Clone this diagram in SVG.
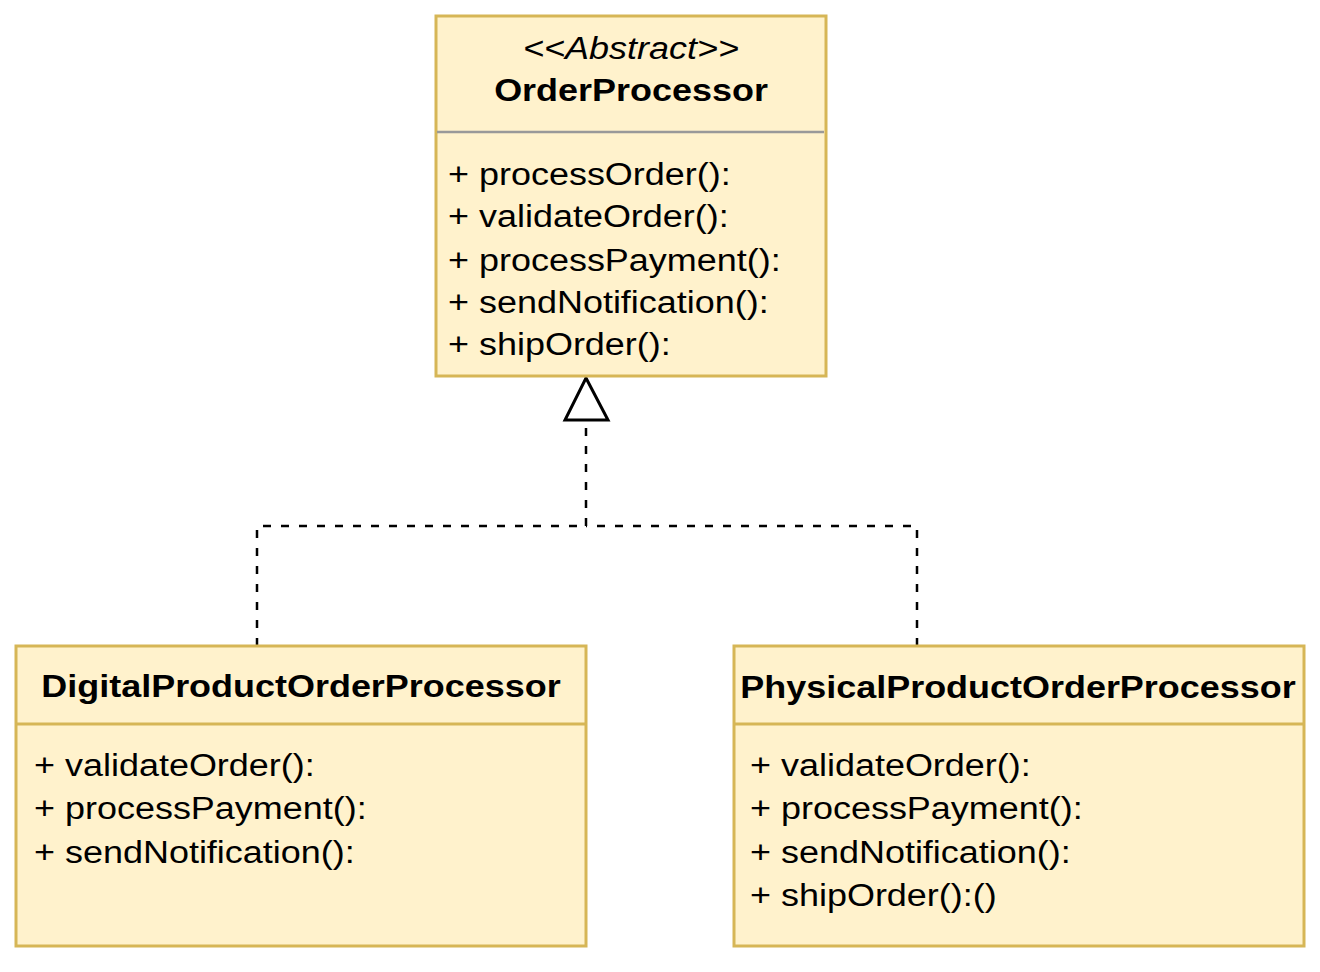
<svg xmlns="http://www.w3.org/2000/svg" width="1320" height="972" viewBox="0 0 1320 972">
<style>
.box{fill:#fff2cc;stroke:#d6b656;stroke-width:3}
.sep{stroke:#d6b656;stroke-width:3}
.gsep{stroke:#999999;stroke-width:2.5}
text{font-family:"Liberation Sans",Arial,Helvetica,sans-serif;font-size:31px;fill:#000}
.b{font-weight:bold}
.i{font-style:italic}
.conn{fill:none;stroke:#000;stroke-width:2.5;stroke-dasharray:8 10}
.tri{fill:#fff;stroke:#000;stroke-width:3}
</style>
<rect width="1320" height="972" fill="#fff"/>
<g id="connectors">
<path class="conn" d="M257 646 V526 H586"/>
<path class="conn" d="M917 646 V526 H586"/>
<path class="conn" d="M586 526 V420"/>
<polygon class="tri" points="586,378 608,420 565,420"/>
</g>
<g id="OrderProcessor">
<rect class="box" x="436" y="16" width="390" height="360"/>
<line class="gsep" x1="437" y1="132" x2="824" y2="132"/>
<g transform="translate(631 0) scale(1.16 1)">
<text class="i" x="0" y="59" text-anchor="middle">&lt;&lt;Abstract&gt;&gt;</text>
<text class="b" x="0" y="101" text-anchor="middle">OrderProcessor</text>
</g>
<g transform="translate(448 0) scale(1.16 1)">
<text x="0" y="185">+ processOrder():</text>
<text x="0" y="227">+ validateOrder():</text>
<text x="0" y="271">+ processPayment():</text>
<text x="0" y="313">+ sendNotification():</text>
<text x="0" y="355">+ shipOrder():</text>
</g>
</g>
<g id="DigitalProductOrderProcessor">
<rect class="box" x="16" y="646" width="570" height="300"/>
<line class="sep" x1="16" y1="724" x2="586" y2="724"/>
<g transform="translate(301 0) scale(1.16 1)">
<text class="b" x="0" y="697" text-anchor="middle">DigitalProductOrderProcessor</text>
</g>
<g transform="translate(34 0) scale(1.16 1)">
<text x="0" y="776">+ validateOrder():</text>
<text x="0" y="819">+ processPayment():</text>
<text x="0" y="863">+ sendNotification():</text>
</g>
</g>
<g id="PhysicalProductOrderProcessor">
<rect class="box" x="734" y="646" width="570" height="300"/>
<line class="sep" x1="734" y1="724" x2="1304" y2="724"/>
<g transform="translate(1018 0) scale(1.16 1)">
<text class="b" x="0" y="698" text-anchor="middle">PhysicalProductOrderProcessor</text>
</g>
<g transform="translate(750 0) scale(1.16 1)">
<text x="0" y="776">+ validateOrder():</text>
<text x="0" y="819">+ processPayment():</text>
<text x="0" y="863">+ sendNotification():</text>
<text x="0" y="906">+ shipOrder():()</text>
</g>
</g>
</svg>
